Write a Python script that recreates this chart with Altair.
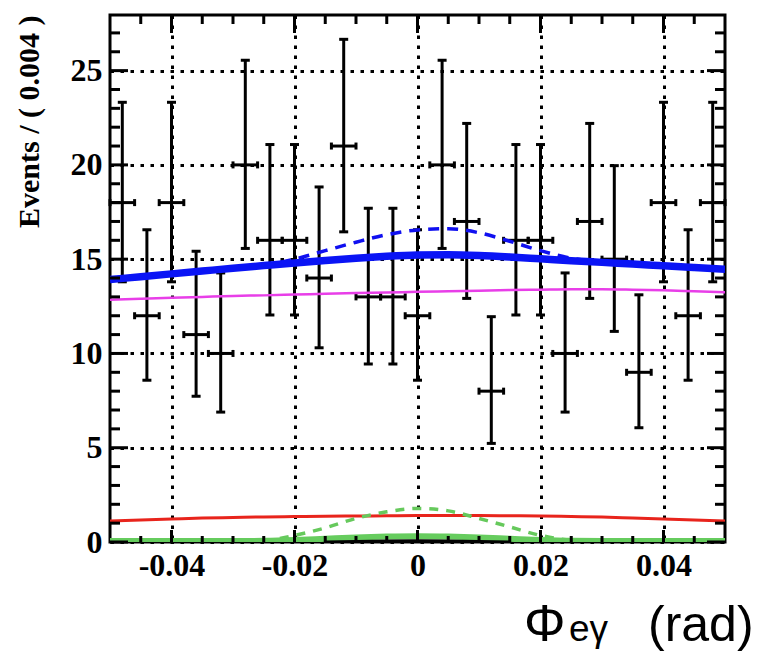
import altair as alt
import pandas as pd

# ---------------- data ----------------
bin_center = [-0.048, -0.044, -0.040, -0.036, -0.032, -0.028, -0.024, -0.020, -0.016,
              -0.012, -0.008, -0.004, 0.000, 0.004, 0.008, 0.012, 0.016, 0.020,
              0.024, 0.028, 0.032, 0.036, 0.040, 0.044, 0.048]
counts = [18, 12, 18, 11, 10, 20, 16, 16, 14, 21, 13, 13, 12, 20, 17, 8, 16, 16,
          10, 17, 15, 9, 18, 12, 18]
err_low = [13.80, 8.58, 13.80, 7.73, 6.89, 15.57, 12.04, 12.04, 10.30, 16.45, 9.44, 9.44,
           8.58, 15.57, 12.92, 5.23, 12.04, 12.04, 6.89, 12.92, 11.17, 6.06, 13.80, 8.58, 13.80]
err_high = [23.32, 16.56, 23.32, 15.42, 14.27, 25.55, 21.08, 21.08, 18.83, 26.66, 17.70, 17.70,
            16.56, 25.55, 22.20, 11.95, 21.08, 21.08, 14.27, 22.20, 19.96, 13.11, 23.32, 16.56, 23.32]
half_bin = 0.002

curve_x = [-0.050, -0.045, -0.040, -0.035, -0.030, -0.025, -0.020, -0.015, -0.010, -0.005,
           0.000, 0.005, 0.010, 0.015, 0.020, 0.025, 0.030, 0.035, 0.040, 0.045, 0.050]
total_fit = [13.92, 14.07, 14.22, 14.37, 14.52, 14.66, 14.80, 14.93, 15.05, 15.15,
             15.22, 15.24, 15.20, 15.12, 15.02, 14.92, 14.83, 14.74, 14.65, 14.56, 14.47]
total_alt = [13.94, 14.09, 14.24, 14.39, 14.54, 14.68, 15.00, 15.45, 15.90, 16.30,
             16.55, 16.62, 16.40, 15.95, 15.45, 15.05, 14.87, 14.76, 14.67, 14.58, 14.49]
bkg_magenta = [12.85, 12.90, 12.95, 13.00, 13.05, 13.08, 13.12, 13.16, 13.20, 13.23,
               13.27, 13.30, 13.33, 13.36, 13.38, 13.40, 13.40, 13.38, 13.35, 13.30, 13.25]
bkg_red = [1.12, 1.17, 1.22, 1.27, 1.30, 1.33, 1.35, 1.37, 1.38, 1.39,
           1.40, 1.40, 1.40, 1.39, 1.38, 1.35, 1.32, 1.27, 1.22, 1.17, 1.12]
sig_green_dash = [0.05, 0.05, 0.05, 0.05, 0.05, 0.08, 0.35, 0.75, 1.25, 1.60,
                  1.78, 1.65, 1.25, 0.80, 0.35, 0.10, 0.05, 0.05, 0.05, 0.05, 0.05]
sig_green = [0.05, 0.05, 0.05, 0.05, 0.05, 0.06, 0.10, 0.17, 0.24, 0.29,
             0.31, 0.29, 0.24, 0.17, 0.10, 0.06, 0.05, 0.05, 0.05, 0.05, 0.05]
black_x = [-0.015, -0.010, -0.005, 0.000, 0.005, 0.010, 0.015]
black_y = [0.00, 0.03, 0.05, 0.06, 0.05, 0.03, 0.00]

x_major = [-0.04, -0.02, 0.0, 0.02, 0.04]
x_minor = [-0.045, -0.035, -0.03, -0.025, -0.015, -0.01, -0.005,
           0.005, 0.01, 0.015, 0.025, 0.03, 0.035, 0.045]
y_major = [0, 5, 10, 15, 20, 25]
y_minor = [1, 2, 3, 4, 6, 7, 8, 9, 11, 12, 13, 14, 16, 17, 18, 19, 21, 22, 23, 24, 26, 27]

y_title = "Events / ( 0.004 )"
x_title_main = "Φ"
x_title_sub = "eγ"
x_title_unit = "(rad)"

# ---------------- layout ----------------
W, H = 615, 527
xs = alt.Scale(domain=[-0.05, 0.05], nice=False, zero=False)
ys = alt.Scale(domain=[0, 27.95], nice=False, zero=False)
SERIF = "Liberation Serif"
LW = 3

x_axis = alt.Axis(values=x_major, grid=True, gridDash=[3.5, 6.5], gridColor="black",
                  gridWidth=3, gridOpacity=1, ticks=False, tickSize=0, domain=False,
                  labelFont=SERIF, labelFontWeight="bold", labelFontSize=32,
                  labelColor="black", labelPadding=8, title=None,
                  labelExpr="datum.value == 0 ? '0' : (datum.value < 0 ? '-' : '') + format(abs(datum.value), '.2f')")
y_axis = alt.Axis(values=y_major, grid=True, gridDash=[3.5, 6.5], gridColor="black",
                  gridWidth=3, gridOpacity=1, ticks=False, tickSize=0, domain=False,
                  labelFont=SERIF, labelFontWeight="bold", labelFontSize=32,
                  labelColor="black", labelPadding=8, format="d",
                  title=y_title, titleFont=SERIF, titleFontWeight="bold",
                  titleFontSize=30, titleColor="black", titleAngle=270,
                  titleX=-81, titleY=0, titleAlign="right", titleBaseline="middle")


def X(field):
    return alt.X(field, scale=xs, axis=x_axis)


def Y(field):
    return alt.Y(field, scale=ys, axis=y_axis)


pts = pd.DataFrame({"x": bin_center, "n": counts, "lo": err_low, "hi": err_high})
base = alt.Chart(pts).transform_calculate(
    xl=f"datum.x - {half_bin}", xr=f"datum.x + {half_bin}")

vbar = base.mark_rule(color="black", strokeWidth=LW).encode(
    x=X("x:Q"), y=Y("lo:Q"), y2="hi:Q")
hbar = base.mark_rule(color="black", strokeWidth=LW).encode(
    x=X("xl:Q"), x2="xr:Q", y=Y("n:Q"))
cap_lo = base.mark_tick(color="black", orient="horizontal", size=9, thickness=LW, opacity=1).encode(
    x=X("x:Q"), y=Y("lo:Q"))
cap_hi = base.mark_tick(color="black", orient="horizontal", size=9, thickness=LW, opacity=1).encode(
    x=X("x:Q"), y=Y("hi:Q"))
cap_l = base.mark_tick(color="black", orient="vertical", size=7, thickness=LW, opacity=1).encode(
    x=X("xl:Q"), y=Y("n:Q"))
cap_r = base.mark_tick(color="black", orient="vertical", size=7, thickness=LW, opacity=1).encode(
    x=X("xr:Q"), y=Y("n:Q"))


def curve(xv, yv, color, width, dash=None):
    kw = dict(color=color, strokeWidth=width, interpolate="monotone", clip=True)
    if dash:
        kw["strokeDash"] = dash
    return alt.Chart(pd.DataFrame({"cx": xv, "cy": yv})).mark_line(**kw).encode(
        x=X("cx:Q"), y=Y("cy:Q"))


c_mag = curve(curve_x, bkg_magenta, "#e83ee8", 2.5)
c_red = curve(curve_x, bkg_red, "#e8241c", 3)
c_bdash = curve(curve_x, total_alt, "#1010f0", 3.5, [11, 8])
c_blue = curve(curve_x, total_fit, "#0a14f5", 7.5)
c_gdash = curve(curve_x, sig_green_dash, "#66c95c", 3.5, [9, 8])
c_green = curve(curve_x, sig_green, "#66cc5e", 6)
c_black = curve(black_x, black_y, "black", 3)


def yticks(vals, x0, x1):
    return alt.Chart(pd.DataFrame({"v": vals})).mark_rule(color="black", strokeWidth=LW).encode(
        y=Y("v:Q"), x=alt.value(x0), x2=alt.value(x1))


def xticks(vals, y0, y1):
    return alt.Chart(pd.DataFrame({"v": vals})).mark_rule(color="black", strokeWidth=LW).encode(
        x=X("v:Q"), y=alt.value(y0), y2=alt.value(y1))


ticks = [
    yticks(y_major, 0, 18), yticks(y_minor, 0, 10),
    yticks(y_major, W - 18, W), yticks(y_minor, W - 10, W),
    xticks(x_major, 0, 18), xticks(x_minor, 0, 9),
    xticks(x_major, H - 12, H), xticks(x_minor, H - 6, H),
]


def label(txt, x, y, size):
    return alt.Chart(pd.DataFrame({"t": [txt]})).mark_text(
        font="Liberation Sans", fontSize=size, align="left", baseline="alphabetic",
        color="black").encode(text="t:N", x=alt.value(x), y=alt.value(y))


titles = [label(x_title_main, 414, 626, 52),
          label(x_title_sub, 459, 626, 37),
          label(x_title_unit, 538, 626, 50)]

chart = alt.layer(
    vbar, hbar, cap_lo, cap_hi, cap_l, cap_r,
    c_mag, c_red, c_bdash, c_blue, c_gdash, c_green, c_black,
    *ticks, *titles
).properties(
    width=W, height=H,
    autosize=alt.AutoSizeParams(type="none"),
    padding={"left": 110, "top": 15, "right": 44, "bottom": 120},
    background="white",
).configure_view(stroke="black", strokeWidth=3)

chart.save("out.html", embed_options={"renderer": "svg", "actions": False})
